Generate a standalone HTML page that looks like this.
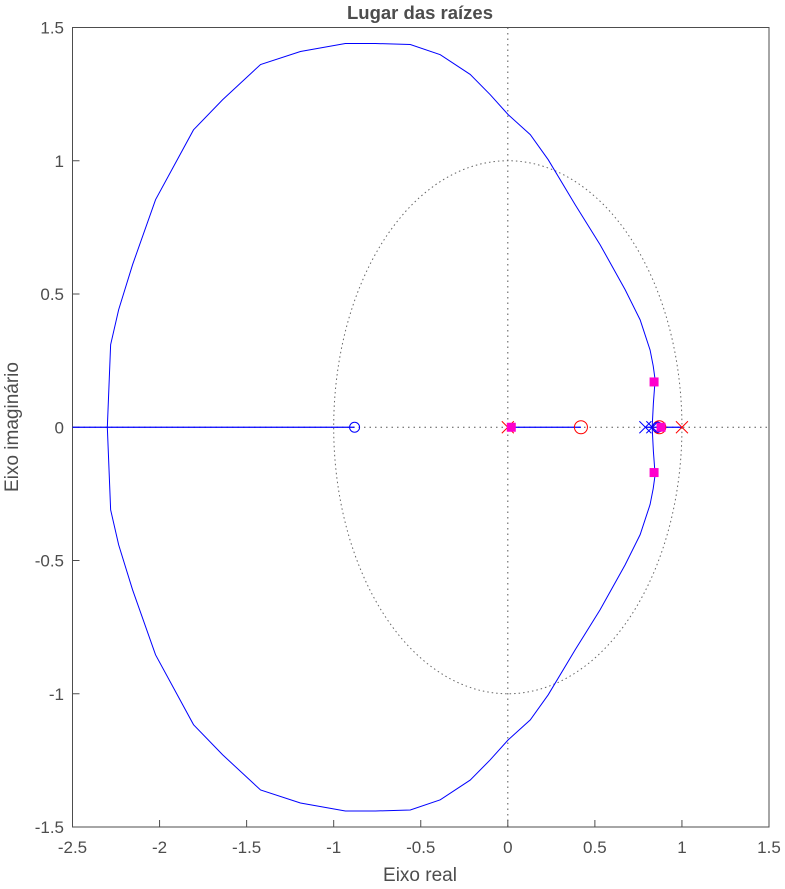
<!DOCTYPE html>
<html><head><meta charset="utf-8"><style>body{margin:0;background:#fff}svg text{font-family:"Liberation Sans",sans-serif;fill:#4d4d4d}</style></head>
<body>
<svg id="chart" width="785" height="884" xmlns="http://www.w3.org/2000/svg">
<rect x="72.5" y="27.5" width="696.5" height="799.5" fill="#fff" stroke="#4d4d4d"/>
<g id="g"></g>
<text x="420" y="19" text-anchor="middle" font-size="18.5" font-weight="bold">Lugar das raízes</text>
<text x="420" y="881" text-anchor="middle" font-size="19">Eixo real</text>
<text transform="translate(18,427) rotate(-90)" text-anchor="middle" font-size="19">Eixo imaginário</text>
</svg>
<script>
const xTicks=[-2.5,-2,-1.5,-1,-0.5,0,0.5,1,1.5];
const yTicks=[-1.5,-1,-0.5,0,0.5,1,1.5];
const locusX=[0.829,0.836,0.846,0.835,0.817,0.76,0.674,0.53,0.387,0.232,0.129,0.002,-0.101,-0.216,-0.388,-0.56,-0.76,-0.933,-1.191,-1.42,-1.638,-1.805,-2.023,-2.155,-2.235,-2.281,-2.3];
const locusY=[0,0.09,0.178,0.23,0.29,0.403,0.516,0.685,0.835,1.004,1.098,1.173,1.248,1.324,1.398,1.436,1.44,1.44,1.41,1.361,1.229,1.116,0.854,0.61,0.441,0.31,0];
const redPoles=[0,1.0];
const redZeros=[0.42,0.87];
const bluePoles=[0.79,0.83];
const blueZeros=[-0.88,0.86];
const gainRe=[0.84,0.84,0.02,0.88];
const gainIm=[0.17,-0.17,0,0];
const X=v=>72.5+(v+2.5)*696.5/4, Y=v=>427.25-v*799.5/3;
const g=document.getElementById('g');const NS='http://www.w3.org/2000/svg';
function mk(t,a){const e=document.createElementNS(NS,t);for(const k in a)e.setAttribute(k,a[k]);g.appendChild(e);return e;}
xTicks.forEach(v=>{const l=mk('line',{x1:X(v),x2:X(v),y1:827,y2:820,stroke:'#4d4d4d'});


const t=mk('text',{x:X(v),y:853,'text-anchor':'middle','font-size':17});t.textContent=v;

});
yTicks.forEach(v=>{const l=mk('line',{x1:72.5,x2:79.5,y1:Y(v),y2:Y(v),stroke:'#4d4d4d'});


const t=mk('text',{x:64,y:Y(v)+6,'text-anchor':'end','font-size':17});t.textContent=v;

});
let e;
e=mk('line',{x1:72.5,x2:769,y1:Y(0),y2:Y(0),stroke:'#555','stroke-dasharray':'1.5,4'});


e=mk('line',{x1:X(0),x2:X(0),y1:27.5,y2:827,stroke:'#555','stroke-dasharray':'1.5,4'});


e=mk('ellipse',{cx:X(0),cy:Y(0),rx:X(1)-X(0),ry:Y(0)-Y(1),fill:'none',stroke:'#666','stroke-dasharray':'1.5,3'});


[[-2.5,blueZeros[0]],[redPoles[0],redZeros[0]],[bluePoles[0],redPoles[1]]].forEach(s=>{e=mk('line',{x1:X(s[0]),x2:X(s[1]),y1:Y(0),y2:Y(0),stroke:'#00f','stroke-width':1.2});

});
const up=locusX.map((x,i)=>X(x)+','+Y(locusY[i]));
const dn=locusX.map((x,i)=>X(x)+','+Y(-locusY[i])).reverse();
e=mk('polyline',{points:up.concat(dn).join(' '),fill:'none',stroke:'#00f','stroke-width':1});


function cross(v,c,n){const x=X(v),y=Y(0),s=6;e=mk('path',{d:`M${x-s},${y-s}L${x+s},${y+s}M${x-s},${y+s}L${x+s},${y-s}`,stroke:c,fill:'none'});

}
redPoles.forEach(v=>cross(v,'#f00','red-pole'));
bluePoles.forEach(v=>cross(v,'#00f','blue-pole'));
redZeros.forEach(v=>{e=mk('circle',{cx:X(v),cy:Y(0),r:6.5,fill:'none',stroke:'#f00'});

});
blueZeros.forEach(v=>{e=mk('circle',{cx:X(v),cy:Y(0),r:5,fill:'none',stroke:'#00f'});

});
gainRe.forEach((v,i)=>{e=mk('rect',{x:X(v)-4.5,y:Y(gainIm[i])-4.5,width:9,height:9,fill:'#f0c'});

});
</script>
</body></html>
